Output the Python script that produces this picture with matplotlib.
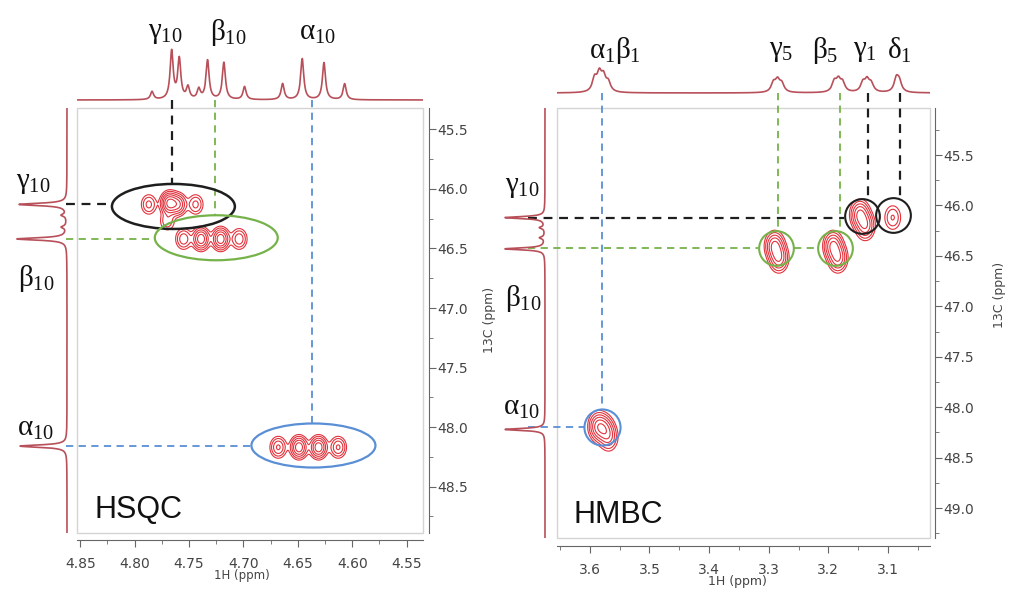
import numpy as np
import matplotlib.pyplot as plt
from matplotlib.patches import Ellipse, Rectangle
from matplotlib.ticker import MultipleLocator, FormatStrFormatter

plt.rcParams['mathtext.fontset'] = 'custom'
plt.rcParams['mathtext.rm'] = 'Liberation Serif'
plt.rcParams['mathtext.it'] = 'Liberation Serif'
plt.rcParams['mathtext.bf'] = 'Liberation Serif:bold'

W, H = 1011, 590

# ---- HSQC data ----
hsqc_h_ppm = [4.784, 4.766, 4.759, 4.751, 4.741, 4.733, 4.718, 4.699, 4.664, 4.646, 4.626, 4.607]
hsqc_h_int = [8, 48, 40, 12, 10, 39, 37, 13, 16, 41, 37, 16]
c13_ppm = [46.13, 46.22, 46.32, 46.42, 48.16]
c13_int = [48, 5, 5, 50, 47]
hsqc_x = [4.787, 4.768, 4.760, 4.744, 4.770, 4.755, 4.739, 4.721, 4.704, 4.668, 4.649, 4.631, 4.613]
hsqc_y = [46.13, 46.12, 46.13, 46.13, 46.27, 46.42, 46.42, 46.42, 46.42, 48.17, 48.17, 48.17, 48.17]
hsqc_a = [0.45, 1.5, 0.9, 0.45, 0.35, 0.55, 1.2, 1.2, 0.55, 0.65, 1.2, 1.2, 0.65]

# ---- HMBC data ----
hmbc_h_ppm = [3.592, 3.584, 3.577, 3.569, 3.292, 3.285, 3.278, 3.190, 3.183, 3.176,
              3.142, 3.135, 3.128, 3.086, 3.081]
hmbc_h_int = [13, 17, 14, 9, 9, 11, 8, 10, 11, 9, 9, 11, 8, 13, 10]
c13b_ppm = [46.12, 46.22, 46.32, 46.43, 48.22]
c13b_int = [40, 5, 5, 40, 40]
hmbc_x = [3.586, 3.575, 3.568, 3.290, 3.283, 3.192, 3.184, 3.147, 3.138, 3.092]
hmbc_y = [48.19, 48.22, 48.30, 46.40, 46.52, 46.40, 46.52, 46.09, 46.20, 46.12]
hmbc_a = [1.0, 0.8, 0.55, 1.0, 0.9, 1.0, 0.9, 1.0, 0.85, 0.4]

red = '#b8505a'
cred = '#e2323c'
green = '#76b24a'
blue = '#5a8fd6'
black = '#1e1e1e'

fig = plt.figure(figsize=(W / 100, H / 100), dpi=100)


def frac(x0, y0, x1, y1):
    return [x0 / W, 1 - y1 / H, (x1 - x0) / W, (y1 - y0) / H]


def lor(x, centers, heights, w):
    s = np.zeros_like(x)
    for c, h in zip(centers, heights):
        s += h / (1 + ((x - c) / w) ** 2)
    return s


def blank(ax):
    for s in ax.spines.values():
        s.set_visible(False)
    ax.set_xticks([])
    ax.set_yticks([])
    ax.patch.set_alpha(0)


def main_axes(rect, xlim, ylim, xmaj, xmin, xfmt, out_b, out_r):
    ax = fig.add_axes(rect)
    ax.set_xlim(*xlim)
    ax.set_ylim(*ylim)
    ax.spines['top'].set_visible(False)
    ax.spines['left'].set_visible(False)
    ax.spines['bottom'].set_position(('outward', out_b))
    ax.spines['right'].set_position(('outward', out_r))
    for s in ['bottom', 'right']:
        ax.spines[s].set_color('#666666')
    ax.yaxis.tick_right()
    ax.xaxis.set_major_locator(MultipleLocator(xmaj))
    ax.xaxis.set_minor_locator(MultipleLocator(xmin))
    ax.xaxis.set_major_formatter(FormatStrFormatter(xfmt))
    ax.yaxis.set_major_locator(MultipleLocator(0.5))
    ax.yaxis.set_minor_locator(MultipleLocator(0.25))
    ax.yaxis.set_major_formatter(FormatStrFormatter('%.1f'))
    ax.tick_params(axis='x', which='major', length=5, pad=7, labelsize=10, colors='#666666', labelcolor='#444444')
    ax.tick_params(axis='y', which='major', length=5, pad=1, labelsize=10, colors='#666666', labelcolor='#444444')
    ax.tick_params(which='minor', length=3, colors='#666666')
    ax.add_patch(Rectangle((0, 0), 1, 1, transform=ax.transAxes, fill=False,
                           ec='#d4d4d4', lw=1, clip_on=False))
    return ax


def contours(ax, xs, ys, amps, sx, sy):
    x0, x1 = ax.get_xlim()
    y0, y1 = ax.get_ylim()
    gx = np.linspace(x1, x0, 800)
    gy = np.linspace(y1, y0, 800)
    X, Y = np.meshgrid(gx, gy)
    Z = np.zeros_like(X)
    for cx, cy, a in zip(xs, ys, amps):
        Z += a * np.exp(-((X - cx) ** 2 / (2 * sx ** 2) + (Y - cy) ** 2 / (2 * sy ** 2)))
    ax.contour(X, Y, Z, levels=[0.12, 0.22, 0.38, 0.6, 0.9, 1.3], colors=cred, linewidths=0.8)


def dash(ax, xs, ys, c, lw=1.3):
    ax.plot(xs, ys, color=c, lw=lw, ls=(0, (4, 3)), clip_on=False, zorder=3)


# ================= HSQC =================
xl1 = (4.853, 4.535)
yl1 = (48.89, 45.32)
ax1 = main_axes(frac(77, 108, 423, 533), xl1, yl1, 0.05, 0.025, '%.2f', 5, 4.3)
contours(ax1, hsqc_x, hsqc_y, hsqc_a, 0.0042, 0.05)

ax1.add_patch(Ellipse((4.7644, 46.147), 0.113, 0.378, fill=False, ec=black, lw=1.8, zorder=4))
ax1.add_patch(Ellipse((4.725, 46.41), 0.113, 0.378, fill=False, ec=green, lw=1.6, zorder=4))
ax1.add_patch(Ellipse((4.6357, 48.155), 0.114, 0.37, fill=False, ec=blue, lw=1.6, zorder=4))

dash(ax1, [4.863, 4.821], [46.13, 46.13], black, 1.6)
dash(ax1, [4.766, 4.766], [45.25, 45.96], black, 1.6)
dash(ax1, [4.726, 4.726], [45.25, 46.22], green)
dash(ax1, [4.863, 4.783], [46.42, 46.42], green)
dash(ax1, [4.6366, 4.6366], [45.25, 47.97], blue)
dash(ax1, [4.863, 4.693], [48.16, 48.16], blue)

ax1.text(0.05, 0.035, 'HSQC', transform=ax1.transAxes, fontsize=22,
         family='Liberation Sans', color='#111111')

top1 = fig.add_axes(frac(77, 30, 423, 103))
blank(top1)
hx = np.linspace(xl1[1], xl1[0], 2000)
top1.plot(hx, lor(hx, hsqc_h_ppm, hsqc_h_int, 0.0017), color=red, lw=1.2)
top1.set_xlim(*xl1)
top1.set_ylim(-3, 70)

side1 = fig.add_axes(frac(8, 108, 70, 533))
blank(side1)
cy = np.linspace(yl1[1], yl1[0], 2000)
side1.plot(lor(cy, c13_ppm, c13_int, 0.012), cy, color=red, lw=1.2)
side1.set_ylim(*yl1)
side1.set_xlim(59, -3)

# ================= HMBC =================
xl2 = (3.655, 3.0295)
yl2 = (49.296, 45.034)
ax2 = main_axes(frac(557, 108, 930, 538), xl2, yl2, 0.1, 0.05, '%.1f', 5.8, 3.6)
contours(ax2, hmbc_x, hmbc_y, hmbc_a, 0.0085, 0.075)

ax2.plot([3.580], [48.196], 'o', ms=26, mfc='none', mec=blue, mew=1.5, zorder=4)
ax2.plot([3.288, 3.189], [46.42, 46.42], 'o', ms=25, mfc='none', mec=green, mew=1.5, zorder=4)
ax2.plot([3.1436, 3.0916], [46.105, 46.095], 'o', ms=25, mfc='none', mec=black, mew=1.5, zorder=4)

dash(ax2, [3.580, 3.580], [44.886, 48.017], blue)
dash(ax2, [3.704, 3.610], [48.196, 48.196], blue)
dash(ax2, [3.2846, 3.2846], [44.886, 46.243], green)
dash(ax2, [3.1805, 3.1805], [44.886, 46.243], green)
dash(ax2, [3.704, 3.318], [46.42, 46.42], green)
dash(ax2, [3.258, 3.219], [46.42, 46.42], green)
dash(ax2, [3.704, 3.174], [46.124, 46.124], black, 1.6)
dash(ax2, [3.1336, 3.1336], [44.886, 45.936], black, 1.6)
dash(ax2, [3.080, 3.080], [44.886, 45.936], black, 1.6)

ax2.text(0.045, 0.035, 'HMBC', transform=ax2.transAxes, fontsize=22,
         family='Liberation Sans', color='#111111')

top2 = fig.add_axes(frac(557, 57, 930, 96))
blank(top2)
hx2 = np.linspace(xl2[1], xl2[0], 2000)
top2.plot(hx2, lor(hx2, hmbc_h_ppm, hmbc_h_int, 0.0045), color=red, lw=1.2)
top2.set_xlim(*xl2)
top2.set_ylim(-3, 36)

side2 = fig.add_axes(frac(500, 108, 548, 538))
blank(side2)
cy2 = np.linspace(yl2[1], yl2[0], 2000)
side2.plot(lor(cy2, c13b_ppm, c13b_int, 0.012), cy2, color=red, lw=1.2)
side2.set_ylim(*yl2)
side2.set_xlim(45, -3)

# ---- axis titles ----
fig.text(242 / W, 1 - 576 / H, '1H (ppm)', ha='center', va='center', fontsize=8.5, color='#444444')
fig.text(737 / W, 1 - 582 / H, '1H (ppm)', ha='center', va='center', fontsize=9, color='#444444')
fig.text(490 / W, 1 - 320 / H, '13C (ppm)', ha='center', va='center', rotation=90, fontsize=9, color='#444444')
fig.text(1000 / W, 1 - 295 / H, '13C (ppm)', ha='center', va='center', rotation=90, fontsize=9, color='#444444')

# ---- peak labels ----
labels = [
    (165, 32, r'$\gamma_{10}$'), (228, 32, r'$\beta_{10}$'), (317, 32, r'$\alpha_{10}$'),
    (33, 182, r'$\gamma_{10}$'), (36, 278, r'$\beta_{10}$'), (35, 428, r'$\alpha_{10}$'),
    (615, 50, r'$\alpha_{1}\beta_{1}$'), (781, 50, r'$\gamma_{5}$'), (825, 50, r'$\beta_{5}$'),
    (865, 50, r'$\gamma_{1}$'), (899, 50, r'$\delta_{1}$'),
    (522, 186, r'$\gamma_{10}$'), (523, 298, r'$\beta_{10}$'), (521, 407, r'$\alpha_{10}$'),
]
for x, y, s in labels:
    fig.text(x / W, 1 - y / H, s, ha='center', va='center', fontsize=21, color='#111111')

fig.savefig('out.png', dpi=100)
